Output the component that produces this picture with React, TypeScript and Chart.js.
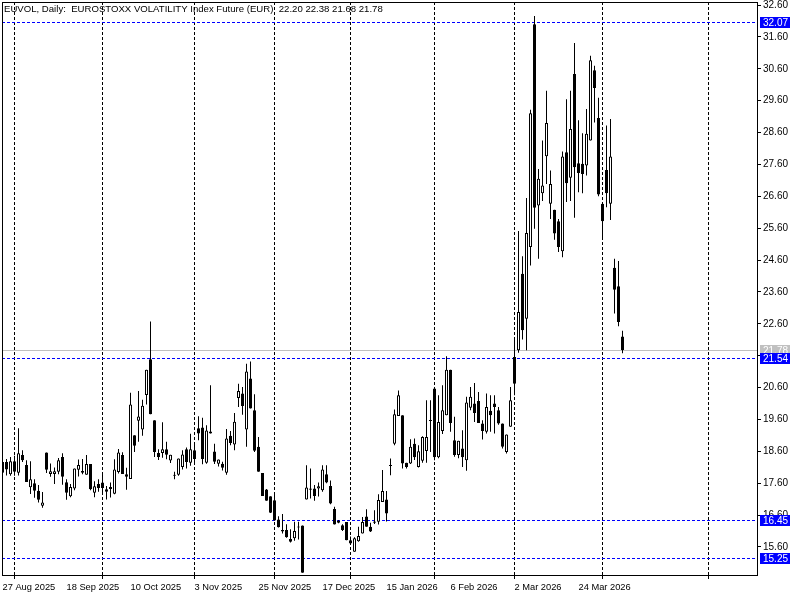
import { useEffect, useRef } from 'react';
import { Chart, registerables } from 'chart.js';

Chart.register(...registerables);

const titleText = 'EUVOL, Daily:  EUROSTOXX VOLATILITY Index Future (EUR)  22.20 22.38 21.68 21.78';

const opens = [
  18.26, 18.26, 17.88, 18.29, 17.93, 18.48, 18.17, 17.47, 17.60, 17.36,
  16.89, 18.56, 17.89, 17.89, 17.96, 18.42, 17.63, 17.19, 17.43, 18.02,
  17.98, 17.86, 18.20, 17.30, 17.57, 17.62, 17.41, 17.48, 17.27, 17.95,
  18.48, 17.88, 17.73, 19.10, 19.56, 19.28, 20.37, 21.49, 19.57, 18.55,
  18.55, 18.66, 18.31, 17.83, 17.86, 18.11, 18.66, 18.24, 18.63, 19.32,
  19.35, 18.24, 19.16, 18.59, 18.21, 18.21, 17.93, 19.09, 18.81, 20.27,
  20.41, 19.28, 20.88, 19.89, 18.74, 17.92, 17.40, 17.19, 17.06, 16.46,
  16.13, 16.13, 15.85, 15.87, 16.21, 16.27, 17.09, 17.43, 17.43, 17.43,
  17.38, 17.88, 17.51, 16.79, 16.42, 16.28, 16.38, 15.81, 15.45, 15.78,
  16.02, 16.55, 16.23, 16.36, 16.39, 17.01, 17.09, 18.14, 18.84, 19.71,
  19.73, 18.24, 18.22, 18.84, 18.11, 18.30, 18.61, 19.55, 20.57, 18.41,
  19.24, 19.73, 21.16, 18.95, 18.48, 18.69, 18.32, 19.97, 20.10, 20.18,
  19.47, 19.21, 19.87, 20.10, 19.89, 19.47, 18.58, 19.37, 21.56, 21.77,
  24.17, 22.76, 25.01, 32.00, 26.31, 26.70, 27.86, 26.37, 26.18, 25.82,
  24.88, 27.98, 27.18, 30.44, 27.64, 27.62, 27.57, 28.35, 30.56, 29.06,
  26.37, 27.43, 26.37, 24.36, 23.78, 22.20,
];

const highs = [
  18.32, 18.36, 18.42, 18.46, 19.32, 18.63, 18.32, 18.29, 17.72, 17.54,
  17.32, 18.56, 18.22, 18.09, 18.39, 18.54, 17.72, 17.57, 18.06, 18.34,
  18.36, 18.48, 18.20, 17.66, 17.72, 17.87, 17.51, 17.62, 18.35, 18.67,
  18.57, 18.08, 20.44, 19.10, 20.49, 20.22, 21.16, 22.67, 19.57, 18.66,
  19.51, 18.90, 18.49, 17.96, 18.37, 18.63, 18.72, 19.15, 18.80, 19.70,
  19.65, 19.42, 20.67, 18.84, 18.34, 18.27, 19.30, 19.24, 19.80, 20.72,
  20.62, 21.35, 21.42, 20.39, 19.05, 17.92, 17.42, 17.19, 17.27, 16.56,
  16.63, 16.31, 16.15, 16.39, 16.39, 16.27, 18.16, 18.06, 17.54, 17.62,
  18.16, 18.16, 17.68, 16.86, 16.44, 16.31, 16.38, 15.93, 15.90, 16.23,
  16.54, 16.78, 16.36, 16.75, 17.25, 18.01, 17.35, 18.37, 19.91, 20.51,
  19.73, 18.24, 18.98, 19.00, 18.79, 19.07, 20.20, 20.20, 20.57, 20.36,
  20.67, 21.58, 21.16, 19.68, 18.93, 19.26, 20.31, 20.62, 20.74, 20.46,
  19.57, 20.41, 20.36, 20.36, 19.99, 19.47, 19.13, 20.62, 22.19, 25.51,
  24.72, 26.55, 29.32, 32.26, 27.46, 28.35, 29.91, 27.41, 26.18, 25.89,
  28.01, 29.65, 29.91, 31.41, 28.99, 28.58, 29.34, 31.01, 30.70, 29.69,
  26.37, 28.82, 29.03, 24.64, 24.57, 22.38,
];

const lows = [
  17.90, 17.84, 17.83, 17.83, 17.84, 18.26, 17.64, 17.26, 17.14, 16.99,
  16.83, 17.92, 17.80, 17.57, 17.88, 17.55, 17.08, 17.16, 17.38, 17.81,
  17.88, 17.86, 17.38, 17.16, 17.33, 17.30, 17.09, 17.15, 17.25, 17.90,
  17.89, 17.39, 17.73, 18.58, 18.90, 19.09, 20.07, 19.76, 18.42, 18.33,
  18.40, 18.35, 18.23, 17.72, 17.83, 18.03, 18.06, 18.15, 18.20, 18.95,
  18.19, 18.21, 19.16, 18.20, 18.12, 18.00, 17.86, 18.79, 18.63, 19.99,
  19.75, 18.74, 19.94, 18.58, 17.96, 17.20, 17.05, 16.66, 16.43, 16.21,
  16.02, 15.89, 15.74, 15.79, 15.83, 14.79, 17.09, 17.12, 17.05, 17.18,
  17.33, 17.60, 16.94, 16.30, 16.34, 16.10, 15.81, 15.68, 15.45, 15.76,
  16.02, 16.23, 16.07, 16.32, 16.30, 17.01, 16.40, 17.85, 18.79, 19.71,
  18.06, 18.06, 18.20, 18.33, 18.09, 18.24, 18.24, 18.58, 18.32, 18.38,
  19.14, 19.73, 19.21, 18.43, 18.38, 18.11, 17.99, 19.89, 19.52, 19.49,
  18.97, 19.16, 19.21, 19.16, 19.43, 18.69, 18.53, 19.37, 20.36, 21.69,
  22.11, 21.77, 24.43, 25.58, 24.64, 26.45, 26.99, 25.89, 25.24, 24.85,
  24.69, 26.42, 26.45, 25.93, 26.73, 26.70, 27.25, 28.35, 28.92, 26.60,
  25.24, 26.26, 25.86, 22.92, 22.52, 21.68,
];

const closes = [
  17.93, 18.03, 18.29, 17.96, 18.54, 18.32, 17.64, 17.72, 17.36, 17.08,
  16.99, 18.02, 17.97, 17.97, 18.32, 17.80, 17.30, 17.48, 18.06, 18.17,
  17.93, 18.20, 17.41, 17.50, 17.45, 17.45, 17.33, 17.42, 18.03, 18.56,
  17.89, 17.80, 20.07, 18.77, 19.69, 20.03, 21.16, 19.76, 18.58, 18.42,
  18.66, 18.49, 18.49, 17.84, 18.37, 18.50, 18.26, 18.66, 18.36, 19.16,
  18.36, 19.25, 19.22, 18.27, 18.34, 18.08, 19.00, 18.86, 19.53, 20.49,
  20.02, 21.10, 19.94, 18.62, 17.96, 17.20, 17.05, 16.67, 16.43, 16.22,
  16.08, 15.90, 15.76, 16.10, 16.22, 14.79, 17.46, 17.39, 17.20, 17.50,
  18.03, 17.62, 16.96, 16.30, 16.36, 16.13, 15.81, 15.71, 15.87, 15.94,
  16.38, 16.23, 16.08, 16.40, 17.07, 17.35, 16.65, 18.14, 19.76, 20.36,
  18.22, 18.11, 18.74, 18.41, 18.60, 19.05, 19.05, 19.55, 18.41, 19.52,
  19.89, 21.16, 19.49, 18.48, 18.93, 18.41, 20.13, 20.31, 19.80, 19.49,
  19.24, 19.99, 19.73, 19.99, 19.47, 18.74, 19.13, 20.20, 20.72, 22.97,
  22.40, 25.45, 29.21, 26.24, 27.15, 26.94, 28.90, 26.99, 25.43, 25.01,
  27.85, 27.01, 28.71, 27.51, 27.33, 27.30, 28.56, 30.87, 30.00, 26.66,
  25.82, 26.70, 27.85, 23.67, 22.66, 21.78,
];

const dateLabels = [
  '27 Aug 2025', '18 Sep 2025', '10 Oct 2025', '3 Nov 2025', '25 Nov 2025',
  '17 Dec 2025', '15 Jan 2026', '6 Feb 2026', '2 Mar 2026', '24 Mar 2026',
];
const dateLabelBars = [0, 16, 32, 48, 64, 80, 96, 112, 128, 144];
const monthStartBars = [3, 25, 48, 68, 87, 108, 128, 150, 176.5];

const yTickValues = [
  15.6, 16.6, 17.6, 18.6, 19.6, 20.6, 21.6, 22.6, 23.6, 24.6,
  25.6, 26.6, 27.6, 28.6, 29.6, 30.6, 31.6, 32.6,
];
const levelLines = [32.07, 21.54, 16.45, 15.25];
const lastPrice = 21.78;

const FONT = '"Liberation Sans", Arial, sans-serif';

export default function App() {
  const ref = useRef<HTMLCanvasElement>(null);

  useEffect(() => {
    document.body.style.margin = '0';
    const canvas = ref.current;
    if (!canvas) return;
    const idx = opens.map((_, i) => i);
    const bodies = idx.map((i) => ({ x: i, y: [opens[i], closes[i]] }));
    const wicks = idx.map((i) => ({ x: i, y: [lows[i], highs[i]] }));

    const overlay = {
      id: 'overlay',
      beforeDatasetsDraw(chart: any) {
        const { ctx, chartArea, scales } = chart;
        const xs = scales.x;
        const ys = scales.y;
        ctx.save();
        ctx.lineWidth = 1;
        ctx.strokeStyle = '#000000';
        ctx.setLineDash([3, 2]);
        monthStartBars.forEach((b) => {
          const px = Math.floor(xs.getPixelForValue(b)) + 0.5;
          ctx.beginPath();
          ctx.moveTo(px, chartArea.top);
          ctx.lineTo(px, chartArea.bottom);
          ctx.stroke();
        });
        ctx.setLineDash([]);
        ctx.strokeStyle = '#c0c0c0';
        const ly = Math.round(ys.getPixelForValue(lastPrice)) + 0.5;
        ctx.beginPath();
        ctx.moveTo(chartArea.left, ly);
        ctx.lineTo(chartArea.right, ly);
        ctx.stroke();
        ctx.strokeStyle = 'rgb(0,0,255)';
        ctx.setLineDash([3, 2]);
        levelLines.forEach((v) => {
          const py = Math.round(ys.getPixelForValue(v)) + 0.5;
          ctx.beginPath();
          ctx.moveTo(chartArea.left, py);
          ctx.lineTo(chartArea.right, py);
          ctx.stroke();
        });
        ctx.restore();
      },
      afterDraw(chart: any) {
        const { ctx, chartArea, scales } = chart;
        const xs = scales.x;
        const ys = scales.y;
        ctx.save();
        ctx.setLineDash([]);
        ctx.strokeStyle = '#000';
        ctx.lineWidth = 1;
        ctx.strokeRect(chartArea.left + 0.5, chartArea.top + 0.5,
          chartArea.right - chartArea.left, chartArea.bottom - chartArea.top);
        monthStartBars.forEach((b) => {
          const px = Math.floor(xs.getPixelForValue(b)) + 0.5;
          ctx.beginPath();
          ctx.moveTo(px, chartArea.bottom + 1);
          ctx.lineTo(px, chartArea.bottom + 4);
          ctx.stroke();
        });
        ctx.fillStyle = '#000';
        ctx.font = `9.6px ${FONT}`;
        ctx.textBaseline = 'middle';
        ctx.textAlign = 'left';
        ctx.fillText(titleText, 4, 9);
        ctx.font = `10px ${FONT}`;
        const box = (v: number, bg: string) => {
          const py = Math.round(ys.getPixelForValue(v));
          ctx.fillStyle = bg;
          ctx.fillRect(chartArea.right + 3, py - 5, 30, 11);
          ctx.fillStyle = '#fff';
          ctx.fillText(v.toFixed(2), chartArea.right + 6, py + 1);
        };
        box(lastPrice, '#c0c0c0');
        levelLines.forEach((v) => box(v, 'rgb(0,0,255)'));
        ctx.restore();
      },
    };

    const chart = new Chart(canvas, {
      type: 'bar',
      data: {
        datasets: [
          {
            data: bodies as any,
            backgroundColor: idx.map((i) => (closes[i] >= opens[i] ? '#ffffff' : '#000000')),
            borderColor: '#000000',
            borderWidth: 1,
            borderSkipped: false,
            barThickness: 3,
            minBarLength: 1,
            grouped: false,
            inflateAmount: 0,
          } as any,
          {
            data: wicks as any,
            backgroundColor: '#000000',
            borderWidth: 0,
            barThickness: 1,
            grouped: false,
            inflateAmount: 0,
          } as any,
        ],
      },
      options: {
        animation: false,
        responsive: false,
        maintainAspectRatio: false,
        layout: { padding: { left: 2, top: 2, right: 0, bottom: 0 } },
        plugins: { legend: { display: false }, tooltip: { enabled: false }, title: { display: false } },
        scales: {
          x: {
            type: 'linear',
            offset: false,
            min: -0.125,
            max: 188.625,
            afterBuildTicks: (s: any) => {
              s.ticks = dateLabelBars.map((v) => ({ value: v }));
            },
            afterFit: (s: any) => {
              s.height = 25;
              s.paddingLeft = 0;
              s.paddingRight = 0;
            },
            ticks: {
              autoSkip: false,
              maxRotation: 0,
              minRotation: 0,
              align: 'start',
              padding: 7,
              color: '#000',
              font: { family: FONT, size: 9.3 },
              callback: (_v: any, i: number) => dateLabels[i] ?? '',
            },
            grid: { display: false, drawTicks: false, offset: false },
            border: { display: false },
          } as any,
          y: {
            type: 'linear',
            position: 'right',
            min: 14.718,
            max: 32.698,
            afterBuildTicks: (s: any) => {
              s.ticks = yTickValues.map((v) => ({ value: v }));
            },
            afterFit: (s: any) => {
              s.width = 43;
              s.paddingTop = 0;
              s.paddingBottom = 0;
            },
            ticks: {
              autoSkip: false,
              padding: 2,
              color: '#000',
              font: { family: FONT, size: 10 },
              callback: (v: any) => Number(v).toFixed(2),
            },
            grid: { drawOnChartArea: false, drawTicks: true, tickLength: 4, color: '#000' },
            border: { display: false },
          } as any,
        },
      },
      plugins: [overlay],
    });
    return () => chart.destroy();
  }, []);

  return <canvas ref={ref} width={800} height={600} style={{ display: 'block' }} />;
}
